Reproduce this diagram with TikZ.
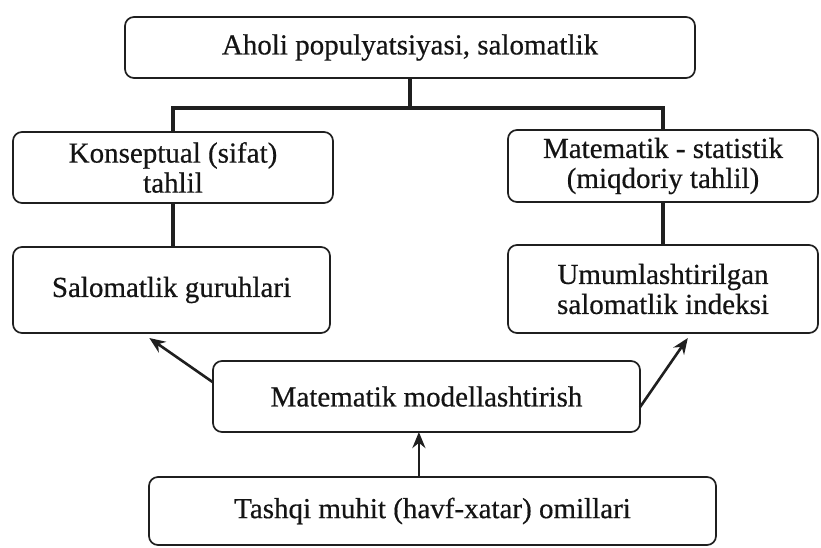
\documentclass[tikz,border=0pt]{standalone}
\usepackage{fontspec}
\setmainfont[FakeBold=0.5]{Liberation Serif}
\usetikzlibrary{arrows.meta,calc}
\begin{document}
\begin{tikzpicture}[x=1pt,y=-1pt,
  box/.style={draw=black!88, line width=1.7pt, rounded corners=9pt, inner sep=0pt, outer sep=0pt,
    align=center, text=black!92, font=\fontsize{29}{30}\selectfont},
  conn/.style={draw=black!88, line width=4.2pt},
  arr/.style={draw=black!88, line width=2.6pt, -{Stealth[length=16pt,width=13pt]}}]
\useasboundingbox (0,0) rectangle (821,547);
\fill[white] (0,0) rectangle (821,547);
\node[box, minimum width=570pt, minimum height=61pt] (top) at (410,47.5) {Aholi populyatsiyasi, salomatlik};
\node[box, minimum width=320pt, minimum height=71pt] (l1) at (173,167.5) {Konseptual (sifat)\\tahlil};
\node[box, minimum width=310pt, minimum height=72pt] (r1) at (663,166) {Matematik - statistik\\(miqdoriy tahlil)};
\node[box, minimum width=317pt, minimum height=86pt] (l2) at (171.5,290) {Salomatlik guruhlari};
\node[box, minimum width=310pt, minimum height=88pt] (r2) at (663,289) {Umumlashtirilgan\\salomatlik indeksi};
\node[box, minimum width=427pt, minimum height=71pt] (mid) at (426.5,396.5) {Matematik modellashtirish};
\node[box, minimum width=567pt, minimum height=68pt] (bot) at (432.5,511) {Tashqi muhit (havf-xatar) omillari};
\coordinate (junc) at (410,108);
\draw[conn] (top.south) -- (junc);
\draw[conn] (l1.north) |- (junc) -| (r1.north);
\draw[conn] (l1.south) -- (l1.south |- l2.north);
\draw[conn] (r1.south) -- (r1.south |- r2.north);
\draw[arr] ($(mid.north west)!0.3!(mid.south west)$) -- ($(l2.south west)!0.43!(l2.south east)+(0,5)$);
\draw[arr] ($(mid.north east)!0.65!(mid.south east)$) -- ($(r2.south west)!0.58!(r2.south east)+(0,5)$);
\coordinate (vb) at ($(bot.north west)!0.476!(bot.north east)$);
\draw[arr] (vb) -- (vb |- mid.south);
\end{tikzpicture}
\end{document}
